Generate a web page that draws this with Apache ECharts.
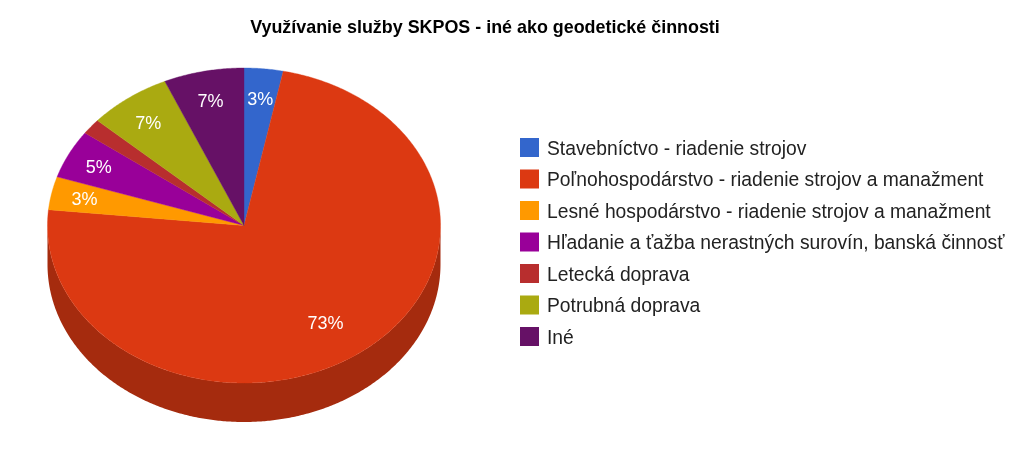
<!DOCTYPE html>
<html>
<head>
<meta charset="utf-8">
<style>html,body{margin:0;padding:0;background:#fff}#c{width:1024px;height:457px}</style>
<script src="https://cdn.jsdelivr.net/npm/echarts@6/dist/echarts.min.js"></script>
</head>
<body>
<div id="c"></div>
<script>
const titleText = 'Využívanie služby SKPOS - iné ako geodetické činnosti';
const categories = [
  'Stavebníctvo - riadenie strojov',
  'Poľnohospodárstvo - riadenie strojov a manažment',
  'Lesné hospodárstvo - riadenie strojov a manažment',
  'Hľadanie a ťažba nerastných surovín, banská činnosť',
  'Letecká doprava',
  'Potrubná doprava',
  'Iné'
];
const values = [3.2, 73.4, 3.4, 5.0, 1.6, 6.8, 6.6];
const colors = ['#3366cc', '#dc3912', '#ff9900', '#990099', '#b82e2e', '#aaaa11', '#661166'];

const FONT = '"Liberation Sans", Arial, sans-serif';
const CX = 244, CY = 225.5, RX = 196.5, RY = 157.5, DEPTH = 39;
const MIN_LABEL = 2;

const total = values.reduce((a, b) => a + b, 0);
function pt(deg, dy) {
  const a = deg * Math.PI / 180;
  return [CX + RX * Math.sin(a), CY - RY * Math.cos(a) + (dy || 0)];
}
function arc(from, to, dy) {
  const n = Math.max(2, Math.ceil((to - from) * 2));
  const out = [];
  for (let i = 0; i <= n; i++) out.push(pt(from + (to - from) * i / n, dy));
  return out;
}
function darken(hex) {
  const n = parseInt(hex.slice(1), 16);
  const c = [(n >> 16) & 255, (n >> 8) & 255, n & 255].map(v => Math.round(v * 0.75));
  return 'rgb(' + c.join(',') + ')';
}

let acc = 0;
const series = categories.map((name, i) => {
  const start = acc / total * 360;
  acc += values[i];
  const end = acc / total * 360;
  return {
    type: 'custom',
    name: name,
    coordinateSystem: 'none',
    itemStyle: { color: colors[i] },
    data: [{ name: name, value: values[i] }],
    renderItem: function () {
      const children = [];
      const s = Math.max(start, 90), e = Math.min(end, 270);
      if (e > s) {
        const lower = arc(s, e, DEPTH).reverse();
        children.push({
          type: 'polygon',
          shape: { points: arc(s, e, 0).concat(lower) },
          style: { fill: darken(colors[i]) }
        });
      }
      children.push({
        type: 'polygon',
        shape: { points: [[CX, CY]].concat(arc(start, end, 0)) },
        style: { fill: colors[i], stroke: colors[i], lineWidth: 0.4 }
      });
      if (values[i] >= MIN_LABEL) {
        const a = (start + end) / 2 * Math.PI / 180;
        const big = values[i] / total > 0.5;
        children.push({
          type: 'text',
          z2: 10,
          style: {
            text: Math.round(values[i] / total * 100) + '%',
            x: CX + RX * (big ? 0.70 : 0.83) * Math.sin(a),
            y: CY - RY * (big ? 0.78 : 0.80) * Math.cos(a),
            fill: '#ffffff',
            font: '18px ' + FONT,
            align: 'center',
            verticalAlign: 'middle'
          }
        });
      }
      return { type: 'group', children: children };
    }
  };
});

const chart = echarts.init(document.getElementById('c'), null, { renderer: 'canvas' });
chart.setOption({
  animation: false,
  backgroundColor: '#ffffff',
  title: {
    text: titleText,
    left: 480,
    top: 14,
    textAlign: 'center',
    textStyle: { fontFamily: FONT, fontSize: 17.9, fontWeight: 'bold', color: '#000000' }
  },
  legend: {
    orient: 'vertical',
    left: 520,
    top: 138,
    padding: 0,
    itemWidth: 19,
    itemHeight: 23,
    itemGap: 8.5,
    icon: 'path://M0 0H19V19H0ZM0 23H19',
    data: categories,
    textStyle: { fontFamily: FONT, fontSize: 19.3, color: '#222222', padding: [0, 0, 0, 3] }
  },
  series: series
});
</script>
</body>
</html>
